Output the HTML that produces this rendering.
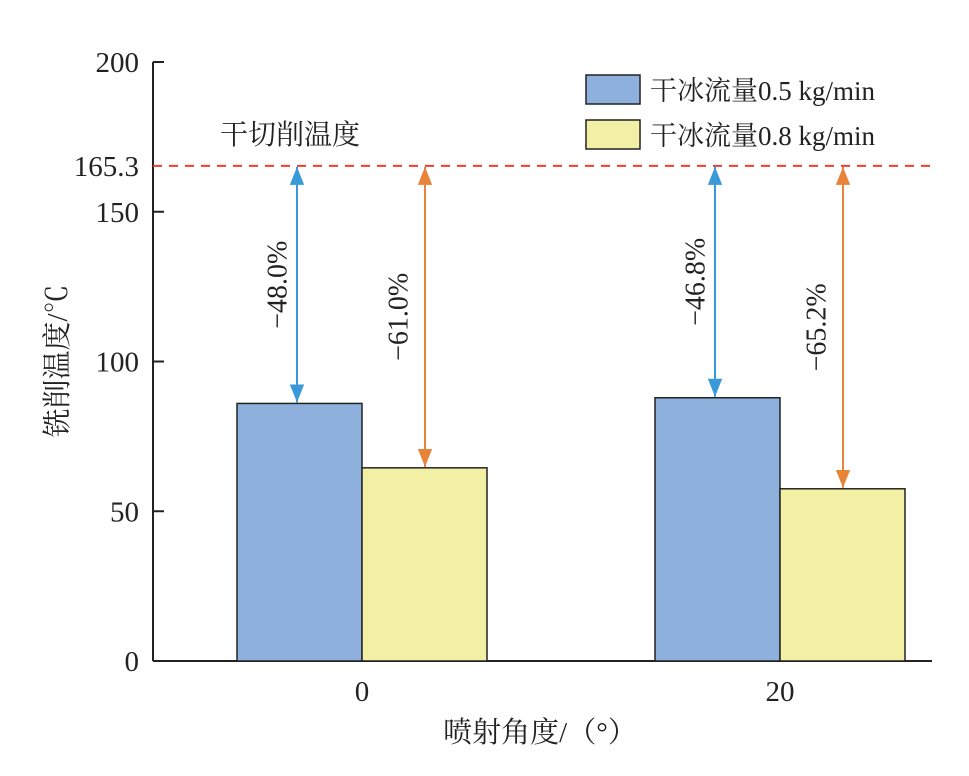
<!DOCTYPE html>
<html><head><meta charset="utf-8"><style>
body{margin:0;background:#fff;}
text{font-family:"Liberation Serif","Noto Serif CJK SC",serif;fill:#222;}
</style></head><body>
<svg id="chart" width="969" height="771" xmlns="http://www.w3.org/2000/svg">
<defs>
<marker id="ab" viewBox="0 0 10 10" refX="10" refY="5" markerWidth="9" markerHeight="9" orient="auto-start-reverse"><path d="M0,1 L10,5 L0,9 Z" fill="#3a9ad9"/></marker>
<marker id="ao" viewBox="0 0 10 10" refX="10" refY="5" markerWidth="9" markerHeight="9" orient="auto-start-reverse"><path d="M0,1 L10,5 L0,9 Z" fill="#e8843a"/></marker>
</defs>
<g id="plot"></g>
</svg>
<script>
const categories=["0","20"];
const series1=[86.0,87.9];
const series2=[64.5,57.5];
const dryTemp=165.3;
const yTicks=[0,50,100,150,200];
const labels1=["−48.0%","−46.8%"];
const labels2=["−61.0%","−65.2%"];
const seriesNames=["干冰流量0.5 kg/min","干冰流量0.8 kg/min"];

const NS="http://www.w3.org/2000/svg";
const g=document.getElementById('plot');
const x0=153,x1=932,yBase=661,yTop=62;
function y(v){return yBase-(v-0)/(200-0)*(yBase-yTop);}
const groupCenters=[362,780];
function gx(i){return groupCenters[i];}
const bw=125;
function mk(tag,attrs,txt){const e=document.createElementNS(NS,tag);for(const k in attrs)e.setAttribute(k,attrs[k]);if(txt!==undefined)e.textContent=txt;g.appendChild(e);return e;}

// axes
let e=mk('line',{x1:x0,y1:yTop,x2:x0,y2:yBase,stroke:'#222','stroke-width':2});


e=mk('line',{x1:x0,y1:yBase,x2:x1,y2:yBase,stroke:'#222','stroke-width':2});


yTicks.forEach(t=>{
  let l=mk('line',{x1:x0,y1:y(t),x2:x0+11,y2:y(t),stroke:'#222','stroke-width':2});
  
  
  let tx=mk('text',{x:x0-14,y:y(t)+10,'text-anchor':'end','font-size':29},String(t));
  
  
});
e=mk('text',{x:x0-14,y:y(dryTemp)+10,'text-anchor':'end','font-size':29},String(dryTemp));


e=mk('line',{x1:x0,y1:y(dryTemp),x2:x1,y2:y(dryTemp),stroke:'#e8402a','stroke-width':2,'stroke-dasharray':'9,7'});


e=mk('text',{x:220,y:144,'font-size':28},'干切削温度');



categories.forEach((c,i)=>{
  const cx=gx(i);
  let b=mk('rect',{x:cx-bw,y:y(series1[i]),width:bw,height:yBase-y(series1[i]),fill:'#8eb0dd',stroke:'#222','stroke-width':1.5});
  
  
  b=mk('rect',{x:cx,y:y(series2[i]),width:bw,height:yBase-y(series2[i]),fill:'#f2f0a4',stroke:'#222','stroke-width':1.5});
  
  
  let t=mk('text',{x:cx,y:yBase+40,'text-anchor':'middle','font-size':29},c);
  
  
  // arrows
  const ax1=cx-65,ax2=cx+63;
  let a=mk('line',{x1:ax1,y1:y(dryTemp)+1,x2:ax1,y2:y(series1[i])-1,stroke:'#3a9ad9','stroke-width':2,'marker-start':'url(#ab)','marker-end':'url(#ab)'});
  
  
  a=mk('line',{x1:ax2,y1:y(dryTemp)+1,x2:ax2,y2:y(series2[i])-1,stroke:'#e8843a','stroke-width':2,'marker-start':'url(#ao)','marker-end':'url(#ao)'});
  
  
  const m1=(y(dryTemp)+y(series1[i]))/2, m2=(y(dryTemp)+y(series2[i]))/2;
  let l=mk('text',{x:ax1-17,y:m1,'text-anchor':'middle','font-size':28,transform:`rotate(-90 ${ax1-17} ${m1})`,'dominant-baseline':'middle'},labels1[i]);
  
  
  l=mk('text',{x:ax2-24,y:m2,'text-anchor':'middle','font-size':28,transform:`rotate(-90 ${ax2-24} ${m2})`,'dominant-baseline':'middle'},labels2[i]);
  
  
});

// legend
const legColors=['#8eb0dd','#f2f0a4'];
seriesNames.forEach((n,i)=>{
  let r=mk('rect',{x:586,y:75+i*45,width:54,height:29,fill:legColors[i],stroke:'#222','stroke-width':1.5});
  
  
  let t=mk('text',{x:650,y:100+i*45,'font-size':27},n);
  
  
});

e=mk('text',{x:540,y:742,'text-anchor':'middle','font-size':29},'喷射角度/（°）');


e=mk('text',{x:67,y:361,'text-anchor':'middle','font-size':29,transform:'rotate(-90 67 361)'},'铣削温度/℃');


</script>
</body></html>
